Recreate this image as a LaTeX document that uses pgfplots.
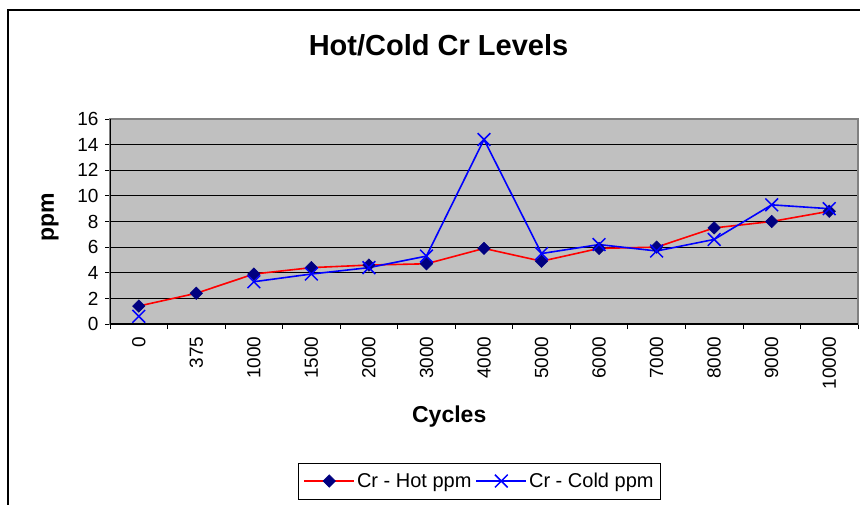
\documentclass[border=0pt]{standalone}
\usepackage{pgfplots}
\pgfplotsset{compat=1.18}
\usepackage{fontspec}
\setmainfont{Liberation Sans}
\definecolor{plotgray}{HTML}{C0C0C0}
\definecolor{navyblue}{HTML}{000080}
\definecolor{frame}{HTML}{808080}
\begin{document}
\begin{tikzpicture}
\useasboundingbox (0pt,0pt) rectangle (860pt,504pt);
\draw[black, line width=1.2pt] (8pt,-30pt) -- (8pt,494pt) -- (890pt,494pt);
\node[font=\bfseries\fontsize{29}{31}\selectfont] at (438.5pt,459pt) {Hot/Cold Cr Levels};
\begin{axis}[
  at={(110pt,180pt)}, anchor=south west,
  width=748pt, height=205pt, scale only axis,
  xmin=-0.5, xmax=12.5, ymin=0, ymax=16,
  ytick={0,2,...,16},
  xtick={0,...,12},
  xticklabels={0,375,1000,1500,2000,3000,4000,5000,6000,7000,8000,9000,10000},
  minor xtick={-0.5,0.5,...,12.5},
  xtick pos=left, ytick pos=left,
  major x tick style={draw=none},
  minor x tick style={black, line width=0.8pt},
  major y tick style={black, line width=0.8pt},
  tick align=outside,
  major tick length=5pt, minor tick length=5pt,
  ymajorgrids, major grid style={black, line width=0.8pt},
  axis line style={draw=none},
  axis background/.style={fill=plotgray},
  /pgf/number format/assume math mode=true,
  tick label style={font=\fontsize{19}{21}\selectfont},
  xticklabel style={rotate=90, anchor=east},
  xticklabel shift=4pt,
  yticklabel shift=3pt,
  xlabel={Cycles}, ylabel={ppm},
  label style={font=\bfseries\fontsize{23}{25}\selectfont},
  xlabel style={at={(0.4535,-0.45)}, anchor=center},
  ylabel style={at={(-0.080,0.52)}, anchor=center},
  unbounded coords=jump,
  legend columns=2,
  legend style={at={(0.494,-0.766)}, anchor=center, draw=black, line width=0.8pt,
    font=\fontsize{20}{22}\selectfont, /tikz/every even column/.append style={column sep=2pt},
    inner xsep=5pt, inner ysep=8pt},
  legend image code/.code={\draw[mark repeat=2,mark phase=2,#1] plot coordinates {(0pt,0pt) (25pt,0pt) (50pt,0pt)};},
  clip=false,
]
\draw[frame, line width=1.5pt] (rel axis cs:0,0) rectangle (rel axis cs:1,1);
\draw[black, line width=1.5pt] (rel axis cs:0,0) -- (rel axis cs:1,0);
\draw[black, line width=1pt] (rel axis cs:0,0) -- (rel axis cs:0,1);
\addplot[red, line width=1.6pt, mark=square*, mark size=4.4pt, mark options={rotate=45, fill=navyblue, draw=navyblue, line width=0.5pt}]
  table {
x y
0 1.4
1 2.4
2 3.9
3 4.4
4 4.6
5 4.7
6 5.9
7 4.9
8 5.9
9 6.0
10 7.5
11 8.0
12 8.8
};
\addlegendentry{Cr - Hot ppm}
\addplot[blue, line width=1.6pt, mark=x, mark size=9pt, mark options={line width=1.5pt}]
  table {
x y
0 0.6
1 nan
2 3.3
3 3.9
4 4.4
5 5.3
6 14.4
7 5.5
8 6.2
9 5.7
10 6.6
11 9.3
12 9.0
};
\addlegendentry{Cr - Cold ppm}
\end{axis}
\end{tikzpicture}
\end{document}
